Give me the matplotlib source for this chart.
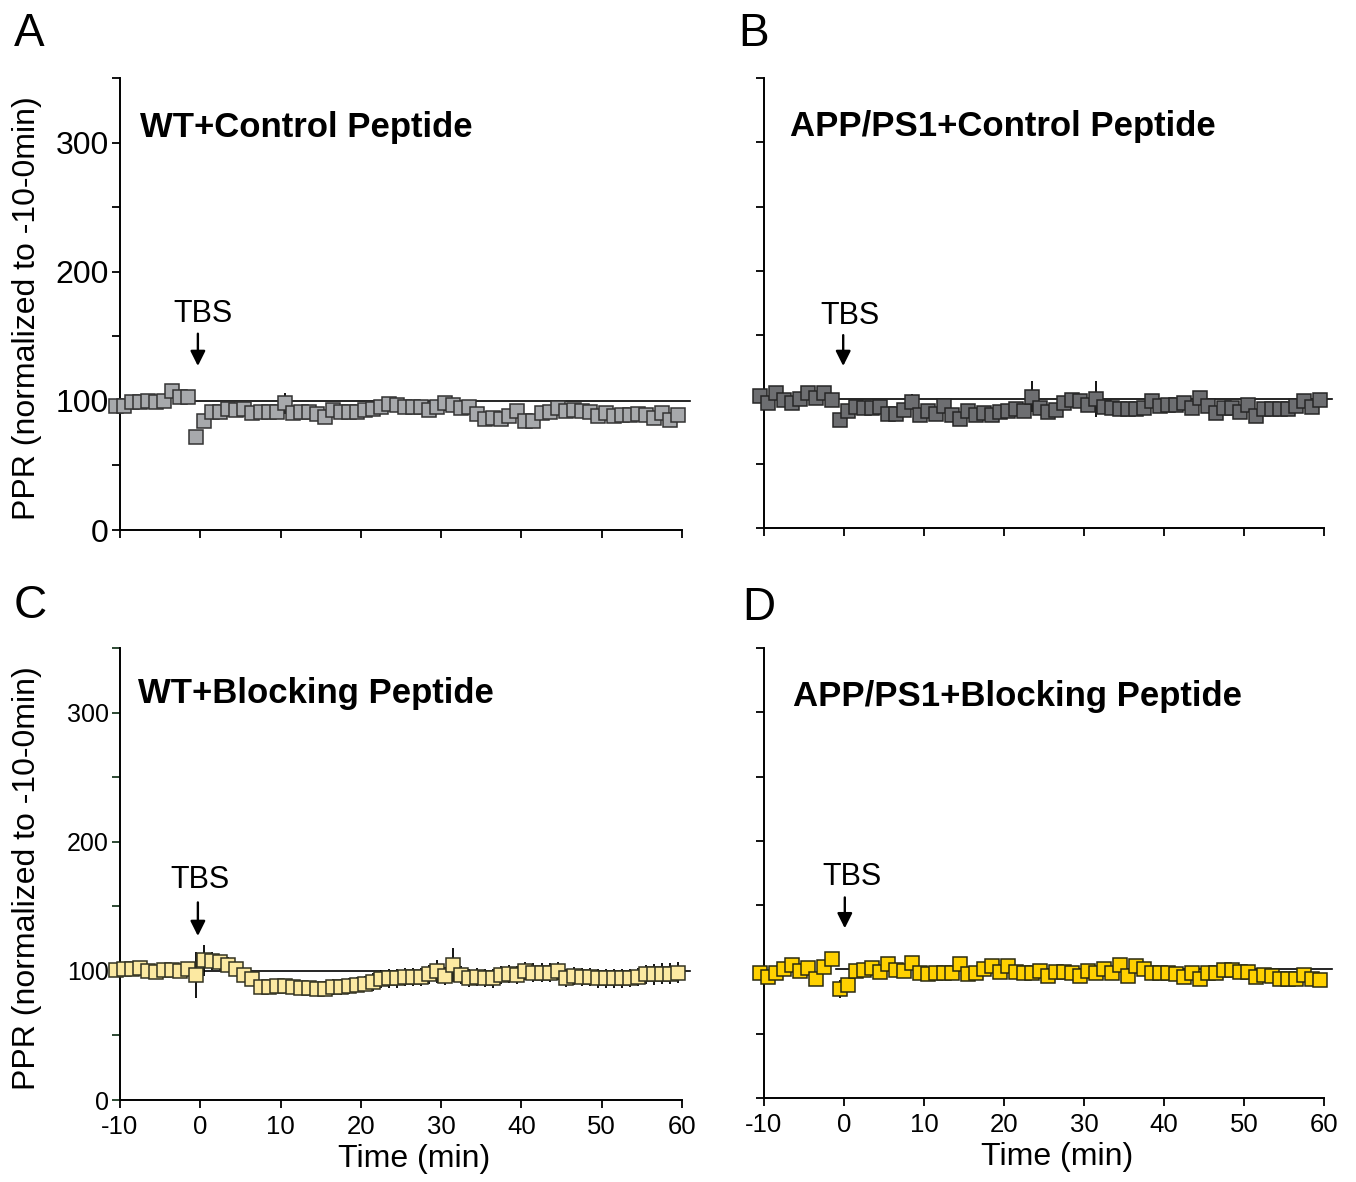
import numpy as np
import matplotlib
matplotlib.use("Agg")
import matplotlib.pyplot as plt

plt.rcParams['font.family'] = ['Liberation Sans', 'DejaVu Sans']

# ---------------- data ----------------
time = np.arange(-10.5, 60, 1.0)  # 71 sample times (min)

a_pre = [96, 96, 99, 99, 100, 99, 100, 108, 103, 103]
a_post = [72, 84.5, 91.5, 91.5, 94, 93, 94, 90.5, 91, 91.5, 91.5, 98, 90.5, 91, 91, 90, 87.6, 93, 91, 91,
          91, 93, 94, 95.5, 97.6, 96.5, 95.5,
          94.9, 94.9, 92.8, 95.4, 98, 96.7, 94.1, 94.9, 90.2, 85.6, 86.4, 85.6, 88.2, 92.3, 84.5, 84.5,
          90.7, 91.5, 94.1, 92.3, 92.8, 92.3, 91.5, 88.2, 90.7, 88.2, 89, 89, 89.7, 89, 87.1, 90.7, 85, 89]
a_err = [3, 3, 3, 3, 3, 3, 3, 3, 3, 3,
         3, 4, 5, 5, 5, 5, 5, 4, 4, 4, 4, 8, 4, 4, 4, 4, 4, 5, 4, 4, 4, 4, 5, 5, 5, 5, 5,
         5, 4, 5, 4, 6, 5, 4, 4, 5, 4, 4, 4, 4, 4, 4, 4, 5, 4, 4, 5, 4, 4, 4, 4, 4, 5, 4, 4, 4, 4, 4, 4, 4, 4]

b_pre = [102.6, 96.9, 105.2, 99.5, 97.4, 100.5, 105.2, 101.3, 104.7, 99.5]
b_post = [84, 91, 94.3, 93.5, 93.5, 94.3, 88.4, 88.4, 91.8, 98.2, 87.6, 91, 88.4, 94.8, 87.6, 84.5, 91, 87.6,
          89.6, 87.6, 90.2, 91, 92.8, 91, 102.1, 93.3,
          90.2, 91.7, 97.4, 99.5, 98.7, 95.3, 100.5, 94.3, 93.5, 92.2, 92.2, 92.8, 93.3, 98.7, 94.8, 95.3,
          95.3, 97.4, 93.5, 101.3, 94.8, 89.1, 93.5, 93.5, 90.2, 95.3, 87.1, 92.2, 92.2, 92.8, 92.2, 94.8,
          98.7, 94.3, 99.5]
b_err = [3, 3, 3, 3, 3, 3, 3, 3, 3, 3,
         4, 3, 3, 3, 3, 3, 3, 3, 3, 6, 3, 4, 3, 3, 3, 3, 4, 3, 3, 3, 3, 3, 3, 3, 12, 3,
         3, 3, 4, 5, 3, 3, 14, 3, 3, 3, 3, 3, 3, 4, 3, 3, 3, 4, 3, 3, 5, 3, 3, 3, 3, 3, 3, 3, 3, 3,
         3, 3, 3, 3, 4]

c_pre = [100.5, 101.3, 101.3, 102.3, 99.7, 99.2, 100.5, 100.5, 99.7, 101.3]
c_post = [96.6, 108.3, 107.5, 106.5, 104.9, 101.3, 96.6, 93.5, 87.6, 87.6, 88.4, 88.4, 87.6, 86.8, 86.8,
          86.3, 86.3, 87.6, 87.6, 88.4, 89.4, 90.2, 91.5, 93.5, 94.1, 94.1, 95.3,
          95.3, 95.3, 97.2, 99.7, 96.1, 104.4, 96.6, 94.6, 95.3, 94.6, 94.1, 96.6, 97.9, 96.6, 99.7, 98.7,
          98.7, 98.7, 99.7, 94.6, 96.1, 95.3, 95.3, 94.1, 94.1, 94.1, 94.1, 94.6, 95.3, 97.2, 97.2, 97.9,
          97.9, 98.7]
c_err = [3, 3, 3, 3, 3, 3, 3, 3, 3, 3,
         18, 12, 7, 6, 6, 5, 5, 5, 5, 5, 5, 5, 5, 5, 5, 5, 6, 6, 6, 6, 6, 6, 7, 7, 7, 7, 7,
         7, 7, 7, 9, 7, 13, 7, 7, 7, 7, 7, 7, 7, 7, 7, 7, 7, 7, 7, 7, 7, 7, 7, 7, 7, 7, 7, 7, 7, 7,
         8, 8, 8, 8]

d_pre = [97.4, 94.3, 96.9, 100, 103.1, 98.7, 101.3, 92.8, 102.1, 107.8]
d_post = [85, 87.6, 98.7, 99.5, 101.3, 97.9, 103.9, 99.5, 98.7, 104.7, 97.4, 96.1, 96.9, 97.4, 96.9, 103.9,
          96.1, 97.4, 100.5, 102.6, 97.9, 102.6, 97.9, 97.4, 97.4, 98.7,
          94.8, 97.9, 97.9, 97.4, 94.8, 98.7, 96.9, 100.5, 97.4, 103.1, 94.8, 102.6, 100.5, 97.4, 97.4,
          96.9, 96.1, 94.3, 96.9, 92.8, 97.4, 96.9, 99.5, 99.5, 97.9, 97.9, 94.3, 95.3, 94.8, 92.8, 92.8,
          92.8, 95.3, 92.8, 91.7]
d_err = [3, 3, 3, 3, 3, 3, 3, 3, 3, 3,
         7, 4, 3, 3, 3, 3, 3, 3, 3, 3, 3, 3, 3, 3, 3, 3, 3, 3, 3, 3, 3, 3, 3, 3, 3, 3,
         3, 3, 3, 3, 3, 3, 3, 3, 3, 3, 3, 3, 3, 3, 3, 3, 3, 3, 3, 3, 3, 3, 3, 3, 3, 3, 3, 3, 3, 3,
         3, 3, 3, 3, 3]

titles = ["WT+Control Peptide", "APP/PS1+Control Peptide",
          "WT+Blocking Peptide", "APP/PS1+Blocking Peptide"]
letters = ["A", "B", "C", "D"]
x_ticks = [-10, 0, 10, 20, 30, 40, 50, 60]
y_ticks = [0, 50, 100, 150, 200, 250, 300, 350]
y_labels = ["0", "", "100", "", "200", "", "300", ""]

# ---------------- figure ----------------
fig = plt.figure(figsize=(13.56, 11.82), dpi=100)
W, H = 1356, 1182

def box(l, r, t, b):
    return [l / W, 1 - b / H, (r - l) / W, (b - t) / H]

panels = [
    dict(pos=box(120, 682, 78, 530), pre=a_pre, post=a_post, err=a_err,
         face="#A7A9AC", edge="#333333", title_xy=(-7.5, 312), tbs=(0.4, 167), arrow=(-0.3, 152, 127),
         ylab=True, xlab=False, letter_xy=(14, 46), tick_fs=23, tickcol="black"),
    dict(pos=box(764, 1324, 78, 528), pre=b_pre, post=b_post, err=b_err,
         face="#6D6E71", edge="#262626", title_xy=(-6.8, 312), tbs=(0.8, 165), arrow=(-0.1, 150, 126),
         ylab=False, xlab=False, letter_xy=(738, 46), tick_fs=23, tickcol="black"),
    dict(pos=box(120, 682, 648, 1100), pre=c_pre, post=c_post, err=c_err,
         face="#FCE9A2", edge="#333322", title_xy=(-7.7, 315), tbs=(0.0, 170), arrow=(-0.3, 153, 127),
         ylab=True, xlab=True, letter_xy=(14, 618), tick_fs=18, tickcol="#1d3a22"),
    dict(pos=box(764, 1324, 648, 1098), pre=d_pre, post=d_post, err=d_err,
         face="#FFD100", edge="#2a2a10", title_xy=(-6.4, 312), tbs=(1.0, 172), arrow=(0.1, 156, 132),
         ylab=False, xlab=True, letter_xy=(742, 620), tick_fs=18, tickcol="black"),
]

for i, p in enumerate(panels):
    ax = fig.add_axes(p["pos"])
    vals = np.array(p["pre"] + p["post"], dtype=float)
    err = np.array(p["err"], dtype=float)

    ax.plot([-1.0, 61.0], [100, 100], color="black", lw=1.2, zorder=1, clip_on=False)
    ax.errorbar(time, vals, yerr=err, fmt="none", ecolor="black", elinewidth=1.3,
                capsize=0, zorder=2, clip_on=False)
    ax.plot(time, vals, linestyle="none", marker="s", markersize=9.8,
            markerfacecolor=p["face"], markeredgecolor=p["edge"], markeredgewidth=1.1,
            zorder=3, clip_on=False)

    ax.set_xlim(-10, 60)
    ax.set_ylim(0, 350)
    for s in ["top", "right"]:
        ax.spines[s].set_visible(False)
    for s in ["left", "bottom"]:
        ax.spines[s].set_linewidth(1.4)
        ax.spines[s].set_color("black")

    ax.set_xticks(x_ticks)
    ax.set_yticks(y_ticks)
    ax.tick_params(axis="both", direction="out", length=6, width=1.3)
    ax.tick_params(axis="y", colors=p["tickcol"], labelcolor="black")

    if p["ylab"]:
        ax.set_yticklabels(y_labels, fontsize=p["tick_fs"])
        ax.tick_params(axis="y", pad=2)
        ax.set_ylabel("PPR (normalized to -10-0min)", fontsize=23)
        ax.yaxis.set_label_coords(-0.138, 0.49)
    else:
        ax.set_yticklabels([])

    if p["xlab"]:
        ax.set_xticklabels([str(v) for v in x_ticks], fontsize=18.5)
        ax.tick_params(axis="x", pad=5)
        ax.set_xlabel("Time (min)", fontsize=23)
        ax.xaxis.set_label_coords(0.523, -0.098)
    else:
        ax.set_xticklabels([])

    ax.text(p["title_xy"][0], p["title_xy"][1], titles[i], fontsize=25,
            fontweight="bold", ha="left", va="center")
    ax.text(p["tbs"][0], p["tbs"][1], "TBS", fontsize=22, ha="center", va="center")
    ax.annotate("", xy=(p["arrow"][0], p["arrow"][2]), xytext=(p["arrow"][0], p["arrow"][1]),
                arrowprops=dict(arrowstyle="-|>,head_length=0.9,head_width=0.45",
                                color="black", lw=1.7, shrinkA=0, shrinkB=0))

    fig.text(p["letter_xy"][0] / W, 1 - p["letter_xy"][1] / H, letters[i],
             fontsize=33, ha="left", va="baseline")

fig.savefig("out.png", dpi=100)
